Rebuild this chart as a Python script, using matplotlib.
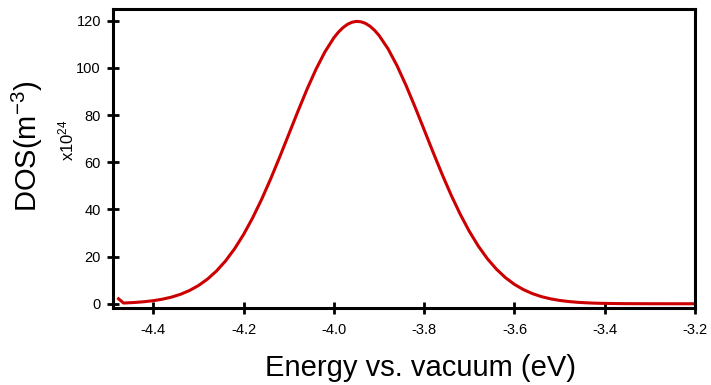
import numpy as np
import matplotlib
matplotlib.use("Agg")
import matplotlib.pyplot as plt

# energy (eV) and DOS (x10^24 m^-3)
energy = [-4.477, -4.466, -4.44, -4.42, -4.40, -4.38, -4.36, -4.34, -4.32, -4.30,
          -4.28, -4.26, -4.24, -4.22, -4.20, -4.18, -4.16, -4.14, -4.12, -4.10,
          -4.08, -4.06, -4.04, -4.02, -4.00, -3.99, -3.98, -3.97, -3.96, -3.95,
          -3.94, -3.93, -3.92, -3.91, -3.90,
          -3.88, -3.86, -3.84, -3.82, -3.80, -3.78, -3.76, -3.74, -3.72, -3.70,
          -3.68, -3.66, -3.64, -3.62, -3.60, -3.58, -3.56, -3.54, -3.52, -3.50,
          -3.48, -3.46, -3.44, -3.42, -3.40, -3.36, -3.30, -3.25, -3.20]
dos = [2.1, 0.3, 0.56, 0.87, 1.30, 1.93, 2.80, 3.99, 5.60, 7.72,
       10.45, 13.89, 18.15, 23.30, 29.38, 36.39, 44.29, 52.96, 62.21, 71.81,
       81.41, 90.70, 99.26, 106.72, 112.75, 115.12, 117.02, 118.43, 119.32, 119.7,
       119.53, 118.85, 117.64, 115.94, 113.75,
       108.06, 100.86, 92.48, 83.31, 73.74, 64.11, 54.77, 45.96, 37.90, 30.70,
       24.43, 19.10, 14.68, 11.08, 8.21, 5.99, 4.28, 3.01, 2.08, 1.41,
       0.94, 0.61, 0.39, 0.24, 0.15, 0.05, 0.01, 0.0, 0.0]

xticks = [-4.4, -4.2, -4.0, -3.8, -3.6, -3.4, -3.2]
yticks = [0, 20, 40, 60, 80, 100, 120]

plt.rcParams['font.family'] = ['Liberation Sans', 'DejaVu Sans']
plt.rcParams['mathtext.default'] = 'regular'
plt.rcParams['axes.unicode_minus'] = False

fig = plt.figure(figsize=(7.11, 3.85), dpi=100)
ax = fig.add_axes([0.1585, 0.2, 0.819, 0.777])

ax.plot(energy, dos, color='#cc0000', lw=2.2)

ax.set_xlim(-4.49, -3.2)
ax.set_ylim(-1.8, 125)
ax.set_xticks(xticks)
ax.set_xticklabels([f"{t:.1f}" for t in xticks])
ax.set_yticks(yticks)

for s in ax.spines.values():
    s.set_linewidth(2.2)
ax.tick_params(direction='inout', length=9, width=2.0, labelsize=10.5)
ax.tick_params(axis='x', pad=6)
ax.tick_params(axis='y', pad=4)

fig.text(0.039, 0.621, 'DOS(m$^{-3}$)', rotation=90, fontsize=21,
         ha='center', va='center')
fig.text(0.093, 0.636, 'x10$^{24}$', rotation=90, fontsize=12,
         ha='center', va='center')
fig.text(0.592, 0.044, 'Energy vs. vacuum (eV)', fontsize=21,
         ha='center', va='center')

plt.savefig('out.png', dpi=100)
